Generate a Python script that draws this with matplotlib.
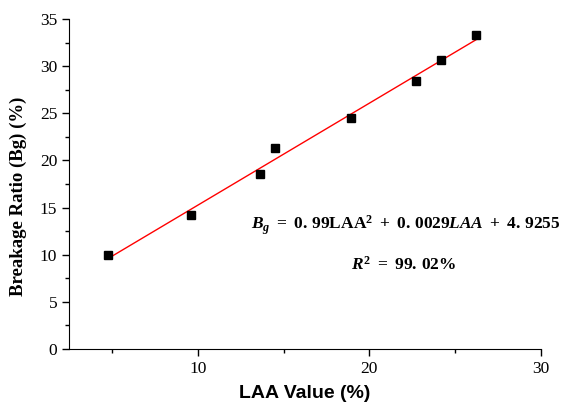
import matplotlib
matplotlib.use("Agg")
import matplotlib.pyplot as plt
import numpy as np
from matplotlib.ticker import MultipleLocator

laa = [4.8, 9.6, 13.6, 14.5, 18.9, 22.7, 24.2, 26.2]
bg = [10.0, 14.2, 18.6, 21.3, 24.5, 28.4, 30.7, 33.3]

plt.rcParams['mathtext.fontset'] = 'custom'
plt.rcParams['mathtext.rm'] = 'Liberation Serif:bold'
plt.rcParams['mathtext.it'] = 'Liberation Serif:bold:italic'
plt.rcParams['mathtext.bf'] = 'Liberation Serif:bold'

fig = plt.figure(figsize=(5.68, 4.08), dpi=100)
ax = fig.add_axes([0.1215, 0.1446, 0.831, 0.8088])

# linear fit line through the points
coef = np.polyfit(laa, bg, 1)
xs = np.array([min(laa), max(laa)])
ax.plot(xs, np.polyval(coef, xs), color='red', lw=1)
ax.plot(laa, bg, 's', color='black', ms=6)

ax.set_xlim(2.5, 30)
ax.set_ylim(0, 35)
ax.xaxis.set_major_locator(MultipleLocator(10))
ax.xaxis.set_minor_locator(MultipleLocator(5))
ax.yaxis.set_major_locator(MultipleLocator(5))
ax.yaxis.set_minor_locator(MultipleLocator(2.5))
ax.tick_params(which='major', direction='out', length=5, width=1)
ax.tick_params(which='minor', direction='out', length=3, width=1)
for lab in ax.get_xticklabels() + ax.get_yticklabels():
    lab.set_fontfamily('Liberation Serif')
    lab.set_fontsize(12.5)
for s in ['top', 'right']:
    ax.spines[s].set_visible(False)

ax.set_xlabel('LAA Value (%)', fontfamily='Liberation Sans', fontweight='bold',
              fontsize=14, labelpad=6)
ax.set_ylabel('Breakage Ratio (Bg) (%)', fontfamily='Liberation Serif',
              fontweight='bold', fontsize=13.5)
ax.yaxis.set_label_coords(-0.09, 0.464)

ax.text(0.713, 0.375,
        r'$B_g\ =\ 0.\,99\mathrm{LAA}^2\ +\ 0.\,0029LAA\ +\ 4.\,9255$',
        transform=ax.transAxes, ha='center', va='center', fontsize=12.5)
ax.text(0.71, 0.255, r'$R^2\ =\ 99.\,02\%$',
        transform=ax.transAxes, ha='center', va='center', fontsize=12.5)

fig.savefig('out.png', dpi=100)
